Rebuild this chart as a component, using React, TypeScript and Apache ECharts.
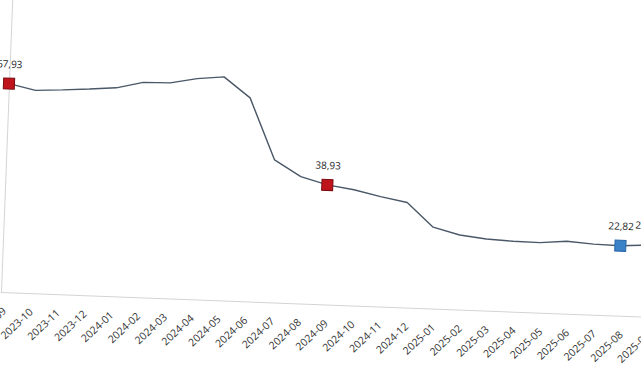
import React, { useEffect, useRef } from "react";
import * as echarts from "echarts";

const months = [
  "2023-09", "2023-10", "2023-11", "2023-12", "2024-01", "2024-02", "2024-03",
  "2024-04", "2024-05", "2024-06", "2024-07", "2024-08", "2024-09", "2024-10",
  "2024-11", "2024-12", "2025-01", "2025-02", "2025-03", "2025-04", "2025-05",
  "2025-06", "2025-07", "2025-08", "2025-09",
];
const values = [
  67.93, 66.07, 66.55, 67.2, 67.9, 70.0, 70.2, 71.9, 72.8, 66.3, 46.4, 41.3,
  38.93, 37.7, 35.8, 34.2, 26.5, 24.3, 23.3, 22.9, 22.8, 23.6, 23.0, 22.82, 23.35,
];
const redPoints = [0, 12];
const bluePoints = [23, 24];

const RED = { color: "#c0141c", borderColor: "#7a0a0e", borderWidth: 1 };
const BLUE = { color: "#3b82c6", borderColor: "#2a68a8", borderWidth: 1 };

export default function App() {
  const ref = useRef<HTMLDivElement>(null);
  useEffect(() => {
    if (!ref.current) return;
    const chart = echarts.init(ref.current, null, { renderer: "svg" });
    const data = values.map((v, i) => {
      const isRed = redPoints.includes(i);
      const isBlue = bluePoints.includes(i);
      if (!isRed && !isBlue) return { value: v };
      return {
        value: v,
        symbol: "rect",
        symbolSize: 11,
        itemStyle: isRed ? RED : BLUE,
        label: { show: true },
      };
    });
    chart.setOption({
      animation: false,
      backgroundColor: "#ffffff",
      grid: {
        left: 60,
        top: 40,
        right: 60,
        bottom: 80,
        containLabel: false,
        outerBoundsMode: "none",
      },
      xAxis: {
        type: "category",
        data: months,
        boundaryGap: false,
        axisLine: { show: true, lineStyle: { color: "#d4d4d4", width: 1 } },
        axisTick: { show: false },
        axisLabel: {
          rotate: 45,
          interval: 0,
          margin: 13,
          verticalAlign: "top",
          fontSize: 10.5,
          color: "#333333",
          fontFamily: "Open Sans",
        },
        splitLine: { show: false },
      },
      yAxis: {
        type: "value",
        min: 0,
        max: 100,
        axisLine: { show: true, lineStyle: { color: "#d4d4d4", width: 1 } },
        axisTick: { show: false },
        axisLabel: { show: false },
        splitLine: { show: false },
      },
      series: [
        {
          type: "line",
          data,
          symbol: "none",
          showSymbol: true,
          lineStyle: { color: "#4a5868", width: 1.4 },
          itemStyle: { color: "#4a5868" },
          label: {
            show: false,
            position: "top",
            distance: 9,
            fontSize: 10,
            color: "#1e1e1e",
            fontFamily: "Open Sans",
            formatter: (p: any) => Number(p.value).toFixed(2).replace(".", ","),
          },
          z: 3,
        },
      ],
    });
    return () => chart.dispose();
  }, []);

  const L = 60;
  const T = 40;
  const Hp = 306.5;
  const W = 60 + 24 * 26.85 + 60;
  const H = T + Hp + 80;
  return (
    <div
      style={{
        position: "fixed",
        left: 0,
        top: 0,
        width: 641,
        height: 380,
        overflow: "hidden",
        background: "#ffffff",
      }}
    >
      <div
        ref={ref}
        style={{
          position: "absolute",
          left: 0.9 - L,
          top: 291.7 - (T + Hp),
          width: W,
          height: H,
          transformOrigin: `${L}px ${T + Hp}px`,
          transform: "rotate(2.2deg)",
        }}
      />
    </div>
  );
}
